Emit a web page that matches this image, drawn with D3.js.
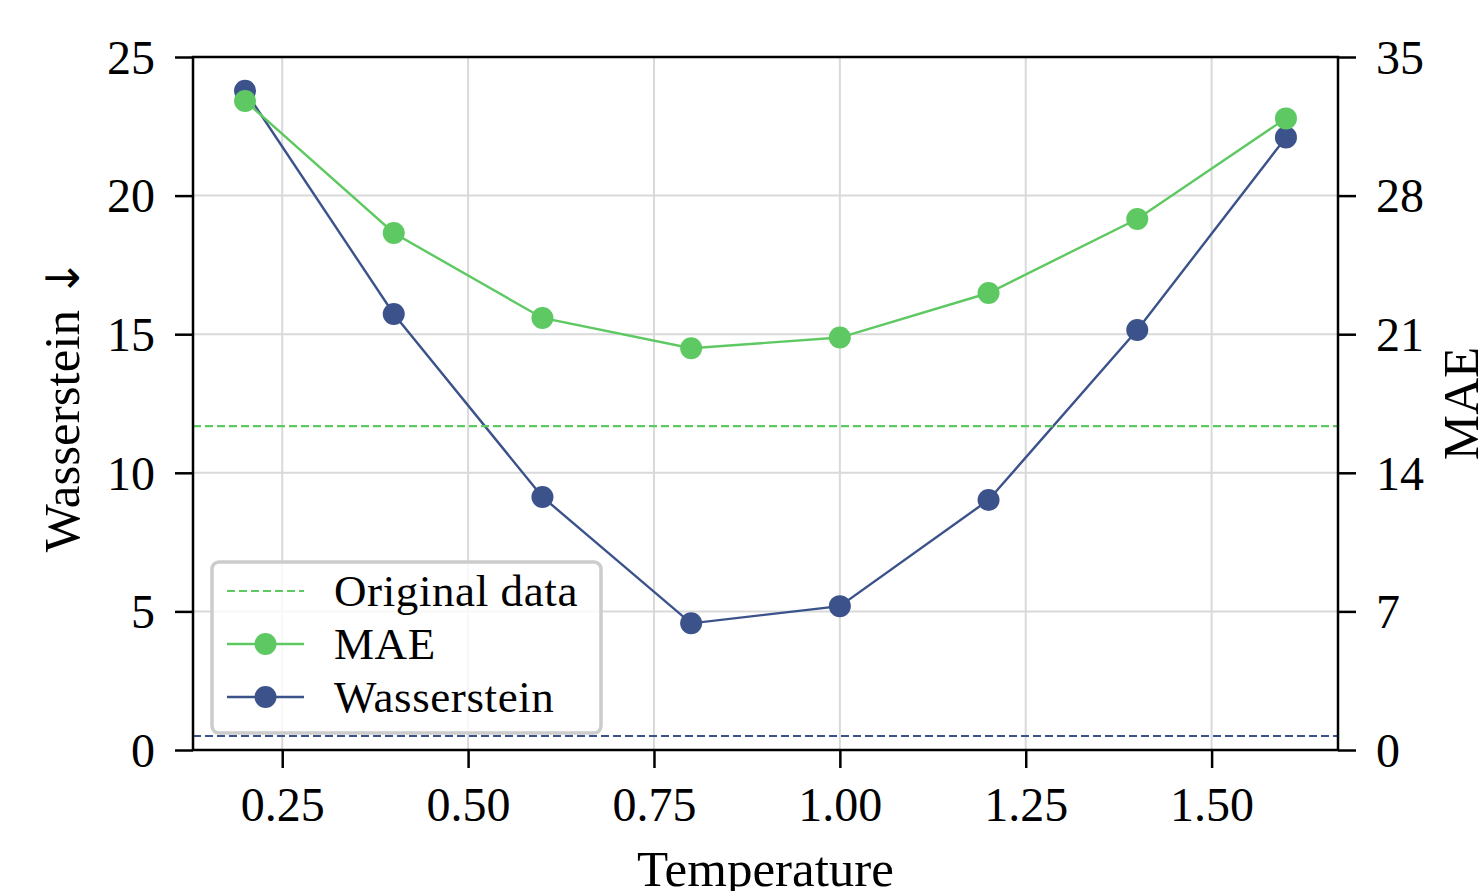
<!DOCTYPE html>
<html>
<head>
<meta charset="utf-8">
<script src="https://cdn.jsdelivr.net/npm/d3@7"></script>
<style>
  html, body { margin: 0; padding: 0; background: #fff; }
  svg { display: block; }
  text { font-family: "Liberation Serif", "DejaVu Serif", serif; fill: #000; }
</style>
</head>
<body>
<svg id="chart" width="1482" height="891"></svg>
<script>
// ---- data ----
const temperatures = [0.2, 0.4, 0.6, 0.8, 1.0, 1.2, 1.4, 1.6];
const wasserstein = [23.78, 15.73, 9.13, 4.57, 5.19, 9.02, 15.15, 22.10];
const mae = [32.78, 26.11, 21.82, 20.29, 20.83, 23.08, 26.82, 31.90];
const originalWasserstein = 0.505;
const originalMae = 16.36;
const xTicks = [0.25, 0.50, 0.75, 1.00, 1.25, 1.50];
const leftTicks = [0, 5, 10, 15, 20, 25];
const rightTicks = [0, 7, 14, 21, 28, 35];
const legendLabels = ["Original data", "MAE", "Wasserstein"];

const green = "#5ec962";
const blue = "#3b528b";
const gridColor = "#d9d9d9";

const svg = d3.select("#chart");
const L = 193, R = 1338, T = 57, B = 750;

const x = d3.scaleLinear().domain([0.13, 1.67]).range([L, R]);
const yL = d3.scaleLinear().domain([0, 25]).range([B, T]);
const yR = d3.scaleLinear().domain([0, 35]).range([B, T]);

// grid
const grid = svg.append("g");
grid.selectAll("line.gx").data(xTicks).enter().append("line")
  .attr("x1", d => x(d)).attr("x2", d => x(d)).attr("y1", T).attr("y2", B)
  .attr("stroke", gridColor).attr("stroke-width", 2);
grid.selectAll("line.gy").data(leftTicks).enter().append("line")
  .attr("x1", L).attr("x2", R).attr("y1", d => yL(d)).attr("y2", d => yL(d))
  .attr("stroke", gridColor).attr("stroke-width", 2);

// reference line (Wasserstein axis)
svg.append("line").attr("x1", L).attr("x2", R)
  .attr("y1", yL(originalWasserstein)).attr("y2", yL(originalWasserstein))
  .attr("stroke", blue).attr("stroke-width", 2.2).attr("stroke-dasharray", "8,4");

// wasserstein series
const lineW = d3.line().x((d, i) => x(temperatures[i])).y(d => yL(d));
svg.append("path").datum(wasserstein).attr("d", lineW)
  .attr("fill", "none").attr("stroke", blue).attr("stroke-width", 2.4);
svg.selectAll("circle.w").data(wasserstein).enter().append("circle")
  .attr("cx", (d, i) => x(temperatures[i])).attr("cy", d => yL(d))
  .attr("r", 11).attr("fill", blue);

// MAE (twin axis, drawn on top)
svg.append("line").attr("x1", L).attr("x2", R)
  .attr("y1", yR(originalMae)).attr("y2", yR(originalMae))
  .attr("stroke", green).attr("stroke-width", 2.2).attr("stroke-dasharray", "8,4");
const lineM = d3.line().x((d, i) => x(temperatures[i])).y(d => yR(d));
svg.append("path").datum(mae).attr("d", lineM)
  .attr("fill", "none").attr("stroke", green).attr("stroke-width", 2.4);
svg.selectAll("circle.m").data(mae).enter().append("circle")
  .attr("cx", (d, i) => x(temperatures[i])).attr("cy", d => yR(d))
  .attr("r", 11).attr("fill", green);

// axes
const tickFont = 48;
const xAxis = d3.axisBottom(x).tickValues(xTicks).tickFormat(d3.format(".2f")).tickSize(18).tickPadding(15);
const gx = svg.append("g").attr("transform", `translate(0,${B})`).call(xAxis);
const yAxisL = d3.axisLeft(yL).tickValues(leftTicks).tickFormat(d3.format("d")).tickSize(18).tickPadding(20);
const gyl = svg.append("g").attr("transform", `translate(${L},0)`).call(yAxisL);
const yAxisR = d3.axisRight(yR).tickValues(rightTicks).tickFormat(d3.format("d")).tickSize(18).tickPadding(20);
const gyr = svg.append("g").attr("transform", `translate(${R},0)`).call(yAxisR);
[gx, gyl, gyr].forEach(g => {
  g.select(".domain").remove();
  g.selectAll(".tick line").attr("stroke", "#000").attr("stroke-width", 2.5);
  g.selectAll(".tick text").attr("font-family", "Liberation Serif, serif").attr("font-size", tickFont).attr("fill", "#000");
});
gx.selectAll(".tick text").attr("dy", "0.8em");
gyl.selectAll(".tick text").attr("dy", "0.34em");
gyr.selectAll(".tick text").attr("dy", "0.34em");

// spines
svg.append("rect").attr("x", L).attr("y", T).attr("width", R - L).attr("height", B - T)
  .attr("fill", "none").attr("stroke", "#000").attr("stroke-width", 2.5);

// axis labels
svg.append("text").attr("x", (L + R) / 2).attr("y", 886).attr("text-anchor", "middle")
  .attr("font-size", 51).text("Temperature");
const yl = svg.append("text").attr("transform", `translate(79,${(T + B) / 2 + 2}) rotate(-90)`)
  .attr("text-anchor", "middle").attr("font-size", 51);
yl.append("tspan").text("Wasserstein ");
yl.append("tspan").attr("font-family", "DejaVu Sans, sans-serif").attr("font-size", 46).text("\u2193");
svg.append("text").attr("transform", `translate(1478,${(T + B) / 2}) rotate(-90)`)
  .attr("text-anchor", "middle").attr("font-size", 51).text("MAE");

// legend
const lg = svg.append("g");
lg.append("rect").attr("x", 212).attr("y", 562).attr("width", 389).attr("height", 171)
  .attr("rx", 7).attr("fill", "#fff").attr("fill-opacity", 0.8)
  .attr("stroke", "#cccccc").attr("stroke-width", 3.5);
const rows = [
  { label: legendLabels[0], color: green, dashed: true, marker: false },
  { label: legendLabels[1], color: green, dashed: false, marker: true },
  { label: legendLabels[2], color: blue, dashed: false, marker: true }
];
const rowY = [591, 644, 697];
rows.forEach((r, i) => {
  const yy = rowY[i];
  lg.append("line").attr("x1", 227).attr("x2", 304).attr("y1", yy).attr("y2", yy)
    .attr("stroke", r.color).attr("stroke-width", r.dashed ? 2.2 : 2.4)
    .attr("stroke-dasharray", r.dashed ? "8,4" : null);
  if (r.marker) lg.append("circle").attr("cx", 265.5).attr("cy", yy).attr("r", 11).attr("fill", r.color);
  lg.append("text").attr("x", 334).attr("y", yy).attr("dy", "0.33em")
    .attr("font-size", 45).attr("letter-spacing", 0.6).text(r.label);
});
</script>
</body>
</html>
